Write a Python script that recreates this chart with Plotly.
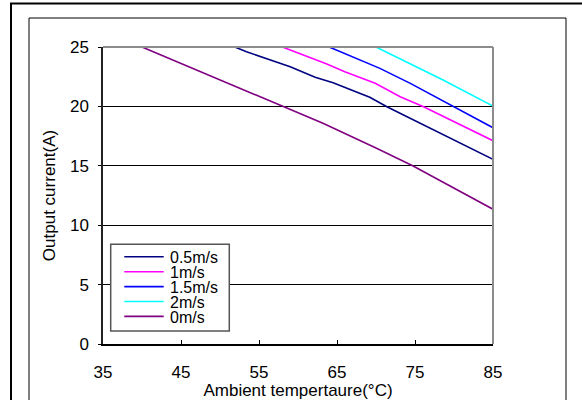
import plotly.graph_objects as go

# ---- data ----
series_names = ["0.5m/s", "1m/s", "1.5m/s", "2m/s", "0m/s"]
series_colors = ["#000080", "#FF00FF", "#0000FF", "#00FFFF", "#800080"]

temp_05 = [51.9, 53.4, 59.0, 62.2, 64.5, 69.2, 71.4, 85.0]
curr_05 = [25.0, 24.6, 23.34, 22.45, 22.0, 20.77, 19.97, 15.55]

temp_1 = [58.0, 59.0, 63.7, 66.0, 69.9, 73.1, 76.1, 85.0]
curr_1 = [25.0, 24.75, 23.57, 22.92, 21.94, 20.82, 19.97, 17.11]

temp_15 = [64.0, 70.5, 74.4, 79.9, 85.0]
curr_15 = [25.0, 23.2, 21.94, 19.97, 18.21]

temp_2 = [70.0, 74.6, 78.6, 85.0]
curr_2 = [25.0, 23.48, 22.22, 20.03]

temp_0 = [40.0, 45.0, 50.0, 55.0, 60.3, 63.2, 70.0, 74.7, 85.0]
curr_0 = [25.0, 23.62, 22.23, 20.85, 19.42, 18.58, 16.5, 15.0, 11.34]

x_ticks = [35, 45, 55, 65, 75, 85]
y_ticks = [0, 5, 10, 15, 20, 25]

series_x = [temp_05, temp_1, temp_15, temp_2, temp_0]
series_y = [curr_05, curr_1, curr_15, curr_2, curr_0]

# ---- layout geometry ----
W, H = 582, 400
ML, MR, MT, MB = 103, 89, 47, 56
PW, PH = W - ML - MR, H - MT - MB
FONT = "Liberation Sans, Arial, sans-serif"


def px2x(px):
    return (px - ML) / PW


def py2y(py):
    return (H - MB - py) / PH


fig = go.Figure()
for name, color, xs, ys in zip(series_names, series_colors, series_x, series_y):
    fig.add_trace(go.Scatter(x=xs, y=ys, mode="lines", name=name,
                             line=dict(color=color, width=1.6),
                             showlegend=False))

shapes = []
# plot frame top and right (grey)
shapes.append(dict(type="line", xref="paper", yref="paper", x0=0, x1=1, y0=1, y1=1,
                   line=dict(color="#8c8c8c", width=2)))
shapes.append(dict(type="line", xref="paper", yref="paper", x0=1, x1=1, y0=0, y1=1,
                   line=dict(color="#8c8c8c", width=2)))
# outer frames
shapes.append(dict(type="rect", xref="paper", yref="paper",
                   x0=px2x(11), x1=px2x(600), y0=py2y(3.5), y1=py2y(420),
                   line=dict(color="black", width=2)))
shapes.append(dict(type="rect", xref="paper", yref="paper",
                   x0=px2x(29), x1=px2x(566), y0=py2y(18), y1=py2y(420),
                   line=dict(color="black", width=1)))
# legend box
shapes.append(dict(type="rect", xref="paper", yref="paper",
                   x0=px2x(110.7), x1=px2x(229.3), y0=py2y(244.3), y1=py2y(331),
                   line=dict(color="#555555", width=1.5), fillcolor="white"))

annotations = []
row0, row_gap = 256.8, 14.9
for i, (name, color) in enumerate(zip(series_names, series_colors)):
    yy = row0 + i * row_gap
    shapes.append(dict(type="line", xref="paper", yref="paper",
                       x0=px2x(124.3), x1=px2x(163.7), y0=py2y(yy), y1=py2y(yy),
                       line=dict(color=color, width=1.6)))
    annotations.append(dict(xref="paper", yref="paper", x=px2x(168.5), y=py2y(yy + 0.5),
                            text=name, showarrow=False, xanchor="left", yanchor="middle",
                            height=14, valign="middle", borderpad=0,
                            font=dict(family=FONT, size=16, color="black")))

fig.update_layout(
    width=W, height=H,
    margin=dict(l=ML, r=MR, t=MT, b=MB, pad=0),
    paper_bgcolor="white", plot_bgcolor="white",
    font=dict(family=FONT, size=17, color="black"),
    shapes=shapes, annotations=annotations,
    showlegend=False,
    xaxis=dict(range=[35, 85], tickvals=x_ticks, ticks="inside", ticklen=4,
               tickcolor="black", tickwidth=1, showgrid=False, zeroline=False,
               showline=True, linecolor="black", linewidth=1.5, automargin=False,
               tickfont=dict(size=17), ticklabelstandoff=12,
               title=dict(text="Ambient tempertaure(°C)", font=dict(size=17), standoff=6)),
    yaxis=dict(range=[0, 25], tickvals=y_ticks, ticks="outside", ticklen=3,
               tickcolor="black", tickwidth=1, showgrid=True, gridcolor="black",
               gridwidth=1, zeroline=False, showline=True, linecolor="#222222",
               linewidth=1.5, automargin=False, tickfont=dict(size=17), ticklabelstandoff=6,
               title=dict(text="Output current(A)", font=dict(size=17), standoff=10)),
)

fig.write_html("out.html")
